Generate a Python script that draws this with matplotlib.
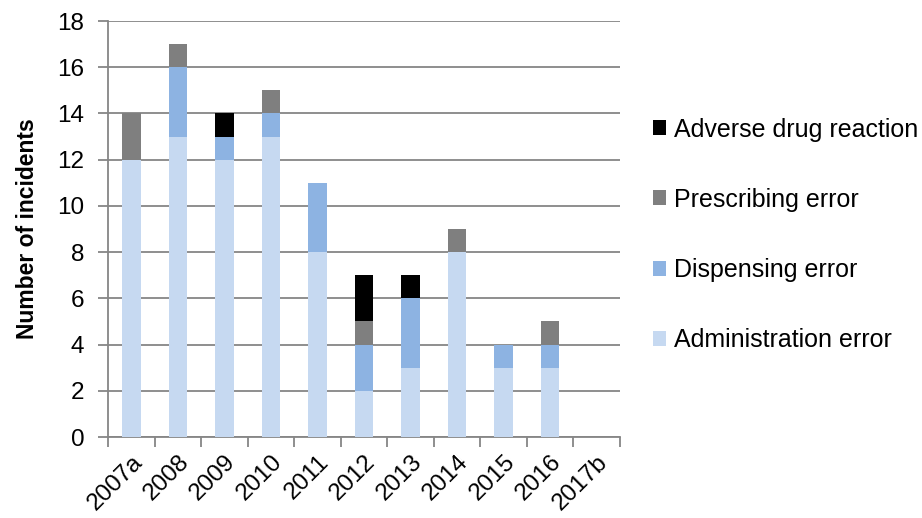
import numpy as np
import matplotlib.pyplot as plt
from matplotlib.patches import Patch

plt.rcParams['font.family'] = ['Liberation Sans', 'DejaVu Sans']

years = ['2007a', '2008', '2009', '2010', '2011', '2012', '2013', '2014', '2015', '2016', '2017b']
administration = [12, 13, 12, 13, 8, 2, 3, 8, 3, 3, 0]
dispensing = [0, 3, 1, 1, 3, 2, 3, 0, 1, 1, 0]
prescribing = [2, 1, 0, 1, 0, 1, 0, 1, 0, 1, 0]
adverse = [0, 0, 1, 0, 0, 2, 1, 0, 0, 0, 0]

series = [
    ('Administration error', administration, '#C6D9F1'),
    ('Dispensing error', dispensing, '#8DB3E2'),
    ('Prescribing error', prescribing, '#7F7F7F'),
    ('Adverse drug reaction', adverse, '#000000'),
]

fig = plt.figure(figsize=(9.22, 5.18), dpi=100)
ax = fig.add_axes([108 / 922, 1 - 437 / 518, (620 - 108) / 922, (437 - 21) / 518])

x = np.arange(len(years))
bottom = np.zeros(len(years))
for name, vals, color in series:
    ax.bar(x, vals, width=0.4, bottom=bottom, color=color, zorder=3)
    bottom += np.array(vals)

ax.set_xlim(-0.5, len(years) - 0.5)
ax.set_ylim(0, 18)
ax.set_yticks(range(0, 19, 2))
ax.yaxis.grid(True, color='#868686', linewidth=1.3, zorder=0)
ax.tick_params(axis='y', length=7, width=1.3, color='#868686', labelsize=17.5, pad=10)

# ticks sit on the category boundaries, labels in the middle
ax.set_xticks(np.arange(len(years) + 1) - 0.5)
ax.set_xticklabels([])
ax.set_xticks(x, minor=True)
ax.set_xticklabels(years, minor=True, rotation=45, ha='right', rotation_mode='anchor', fontsize=17.5)
ax.tick_params(axis='x', which='major', length=7, width=1.3, color='#868686')
ax.tick_params(axis='x', which='minor', length=0, pad=10)

for side in ['top', 'right']:
    ax.spines[side].set_visible(False)
for side in ['left', 'bottom']:
    ax.spines[side].set_color('#868686')
    ax.spines[side].set_linewidth(1.3)

ax.set_ylabel('Number of incidents', fontsize=16.5, fontweight='bold')
ax.yaxis.set_label_coords(-(108 - 39) / 512, 0.5)

handles = [Patch(facecolor=c, label=n) for n, v, c in series[::-1]]
fig.legend(handles=handles, loc='upper left', bbox_to_anchor=(630 / 922, 1 - 95 / 518),
           frameon=False, fontsize=18, handlelength=0.55, handleheight=0.55,
           handletextpad=0.3, labelspacing=1.85)

fig.savefig('out.png', dpi=100)
